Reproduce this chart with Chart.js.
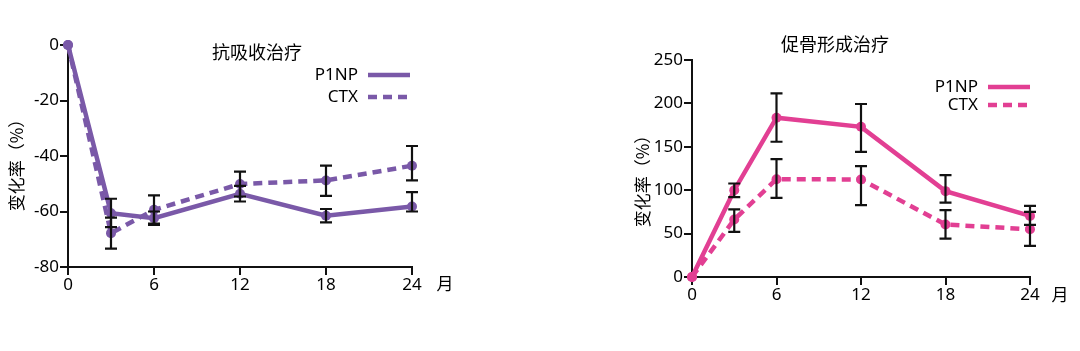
<!DOCTYPE html>
<html>
<head>
<meta charset="utf-8">
<script src="https://cdn.jsdelivr.net/npm/chart.js@4/dist/chart.umd.min.js"></script>
<style>
  body { margin: 0; background: #fff; }
  .wrap { position: absolute; top: 0; height: 351px; }
  #w1 { left: 0; width: 470px; }
  #w2 { left: 600px; width: 480px; }
</style>
</head>
<body>
<div class="wrap" id="w1"><canvas id="c1"></canvas></div>
<div class="wrap" id="w2"><canvas id="c2"></canvas></div>
<script>
// months (x values)
const months = [0, 3, 6, 12, 18, 24];
const xTicks = [0, 6, 12, 18, 24];

// anti-resorptive therapy
const antiP1NP = [0, -60.6, -62.4, -53.6, -61.5, -58.2];
const antiP1NPLo = [null, -65.6, -64.8, -56.4, -63.9, -60.0];
const antiP1NPHi = [null, -55.4, -60.0, -50.8, -59.1, -53.0];
const antiCTX = [0, -67.8, -59.4, -50.1, -48.8, -43.5];
const antiCTXLo = [null, -73.4, -64.4, -54.6, -54.4, -48.8];
const antiCTXHi = [null, -62.2, -54.2, -45.6, -43.5, -36.4];

// anabolic therapy
const anaP1NP = [0, 100, 183.5, 173, 98.9, 70.4];
const anaP1NPLo = [null, 92, 155.8, 144.2, 85.8, 60];
const anaP1NPHi = [null, 107.7, 211.6, 199.3, 117.3, 82];
const anaCTX = [0, 66.2, 112.7, 112.4, 60.4, 55];
const anaCTXLo = [null, 52, 91.2, 82.7, 44.3, 35.8];
const anaCTXHi = [null, 78, 135.8, 127.7, 77, 75];

const PURPLE = '#7a59a8';
const PINK = '#e23f93';
const TXT = '#000';
const FONT = '"Noto Sans", "Noto Sans CJK SC", sans-serif';
const CJK = '"Noto Sans CJK SC", sans-serif';

Chart.defaults.font.family = FONT;
Chart.defaults.color = TXT;

function pts(ys) { return months.map((m, i) => ({ x: m, y: ys[i] })); }

const errorBars = {
    id: 'errorBars',
    afterDatasetsDraw(chart, args, opts) {
        const ctx = chart.ctx, xs = chart.scales.x, ys = chart.scales.y;
        ctx.save();
        ctx.strokeStyle = '#111';
        ctx.lineWidth = 2.2;
        opts.sets.forEach(s => {
            months.forEach((m, i) => {
                if (s.lo[i] == null) return;
                const x = xs.getPixelForValue(m);
                const y1 = ys.getPixelForValue(s.lo[i]);
                const y2 = ys.getPixelForValue(s.hi[i]);
                ctx.beginPath();
                ctx.moveTo(x, y1); ctx.lineTo(x, y2);
                ctx.moveTo(x - 6, y1); ctx.lineTo(x + 6, y1);
                ctx.moveTo(x - 6, y2); ctx.lineTo(x + 6, y2);
                ctx.stroke();
            });
        });
        ctx.restore();
    }
};

const labels = {
    id: 'labels',
    afterDraw(chart, args, o) {
        const ctx = chart.ctx;
        ctx.save();
        ctx.fillStyle = TXT;
        ctx.textBaseline = 'middle';
        // title
        ctx.font = '18px ' + CJK;
        ctx.textAlign = 'center';
        ctx.fillText(o.title, o.titleX, o.titleY);
        // legend
        ctx.font = '17px ' + FONT;
        ctx.textAlign = 'right';
        ctx.fillText('P1NP', o.legX, o.legY1);
        ctx.fillText('CTX', o.legX, o.legY2);
        ctx.strokeStyle = o.color;
        ctx.lineWidth = 4.5;
        ctx.beginPath();
        ctx.moveTo(o.legX + 10, o.legY1); ctx.lineTo(o.legX + 52, o.legY1);
        ctx.stroke();
        ctx.setLineDash([9, 6]);
        ctx.beginPath();
        ctx.moveTo(o.legX + 10, o.legY2); ctx.lineTo(o.legX + 52, o.legY2);
        ctx.stroke();
        ctx.setLineDash([]);
        // month unit
        ctx.font = '17px ' + CJK;
        ctx.textAlign = 'center';
        ctx.fillText('月', o.unitX, o.unitY);
        // y title
        ctx.translate(o.yTitleX, o.yTitleY);
        ctx.rotate(-Math.PI / 2);
        ctx.fillText('变化率（%）', 0, 0);
        ctx.restore();
    }
};

function makeChart(id, p1np, ctx, err, color, yMin, yMax, yStep, area, lab) {
    const W = area.w, H = 351;
    return new Chart(document.getElementById(id), {
        type: 'line',
        data: {
            datasets: [{
                label: 'P1NP',
                data: pts(p1np),
                borderColor: color,
                backgroundColor: color,
                borderWidth: 4.5,
                pointRadius: 5,
                pointBorderWidth: 0,
                clip: false
            }, {
                label: 'CTX',
                data: pts(ctx),
                borderColor: color,
                backgroundColor: color,
                borderWidth: 4.5,
                borderDash: [9, 6],
                pointRadius: 5,
                pointBorderWidth: 0,
                clip: false
            }]
        },
        options: {
            responsive: true,
            maintainAspectRatio: false,
            animation: false,
            events: [],
            layout: { padding: { top: area.top, right: W - area.right, left: 0, bottom: 0 } },
            scales: {
                x: {
                    type: 'linear',
                    min: 0, max: 24,
                    afterBuildTicks: s => { s.ticks = xTicks.map(v => ({ value: v })); },
                    afterFit: s => { s.height = H - area.bottom; },
                    grid: { drawOnChartArea: false, drawTicks: true, tickLength: 8, color: '#111', lineWidth: 2 },
                    border: { color: '#111', width: 2 },
                    ticks: { font: { size: 17 }, color: TXT, padding: 0, maxRotation: 0 }
                },
                y: {
                    min: yMin, max: yMax,
                    ticks: { stepSize: yStep, font: { size: 17 }, color: TXT, padding: 1 },
                    afterFit: s => { s.width = area.left; },
                    grid: { drawOnChartArea: false, drawTicks: true, tickLength: 8, color: '#111', lineWidth: 2 },
                    border: { color: '#111', width: 2 }
                }
            },
            plugins: {
                legend: { display: false },
                tooltip: { enabled: false },
                errorBars: { sets: err },
                labels: lab
            }
        },
        plugins: [errorBars, labels]
    });
}

window.charts = window.charts || {};

window.charts.anti = makeChart('c1', antiP1NP, antiCTX,
    [{ lo: antiP1NPLo, hi: antiP1NPHi }, { lo: antiCTXLo, hi: antiCTXHi }],
    PURPLE, -80, 0, 20,
    { w: 470, left: 68, right: 412, top: 45, bottom: 267 },
    { title: '抗吸收治疗', titleX: 257, titleY: 52, legX: 358, legY1: 75, legY2: 97,
      color: PURPLE, unitX: 445, unitY: 284, yTitleX: 17, yTitleY: 161 });

window.charts.ana = makeChart('c2', anaP1NP, anaCTX,
    [{ lo: anaP1NPLo, hi: anaP1NPHi }, { lo: anaCTXLo, hi: anaCTXHi }],
    PINK, 0, 250, 50,
    { w: 480, left: 92, right: 430, top: 60, bottom: 277 },
    { title: '促骨形成治疗', titleX: 235, titleY: 44, legX: 378, legY1: 87, legY2: 105,
      color: PINK, unitX: 460, unitY: 295, yTitleX: 43, yTitleY: 177 });
</script>
</body>
</html>
